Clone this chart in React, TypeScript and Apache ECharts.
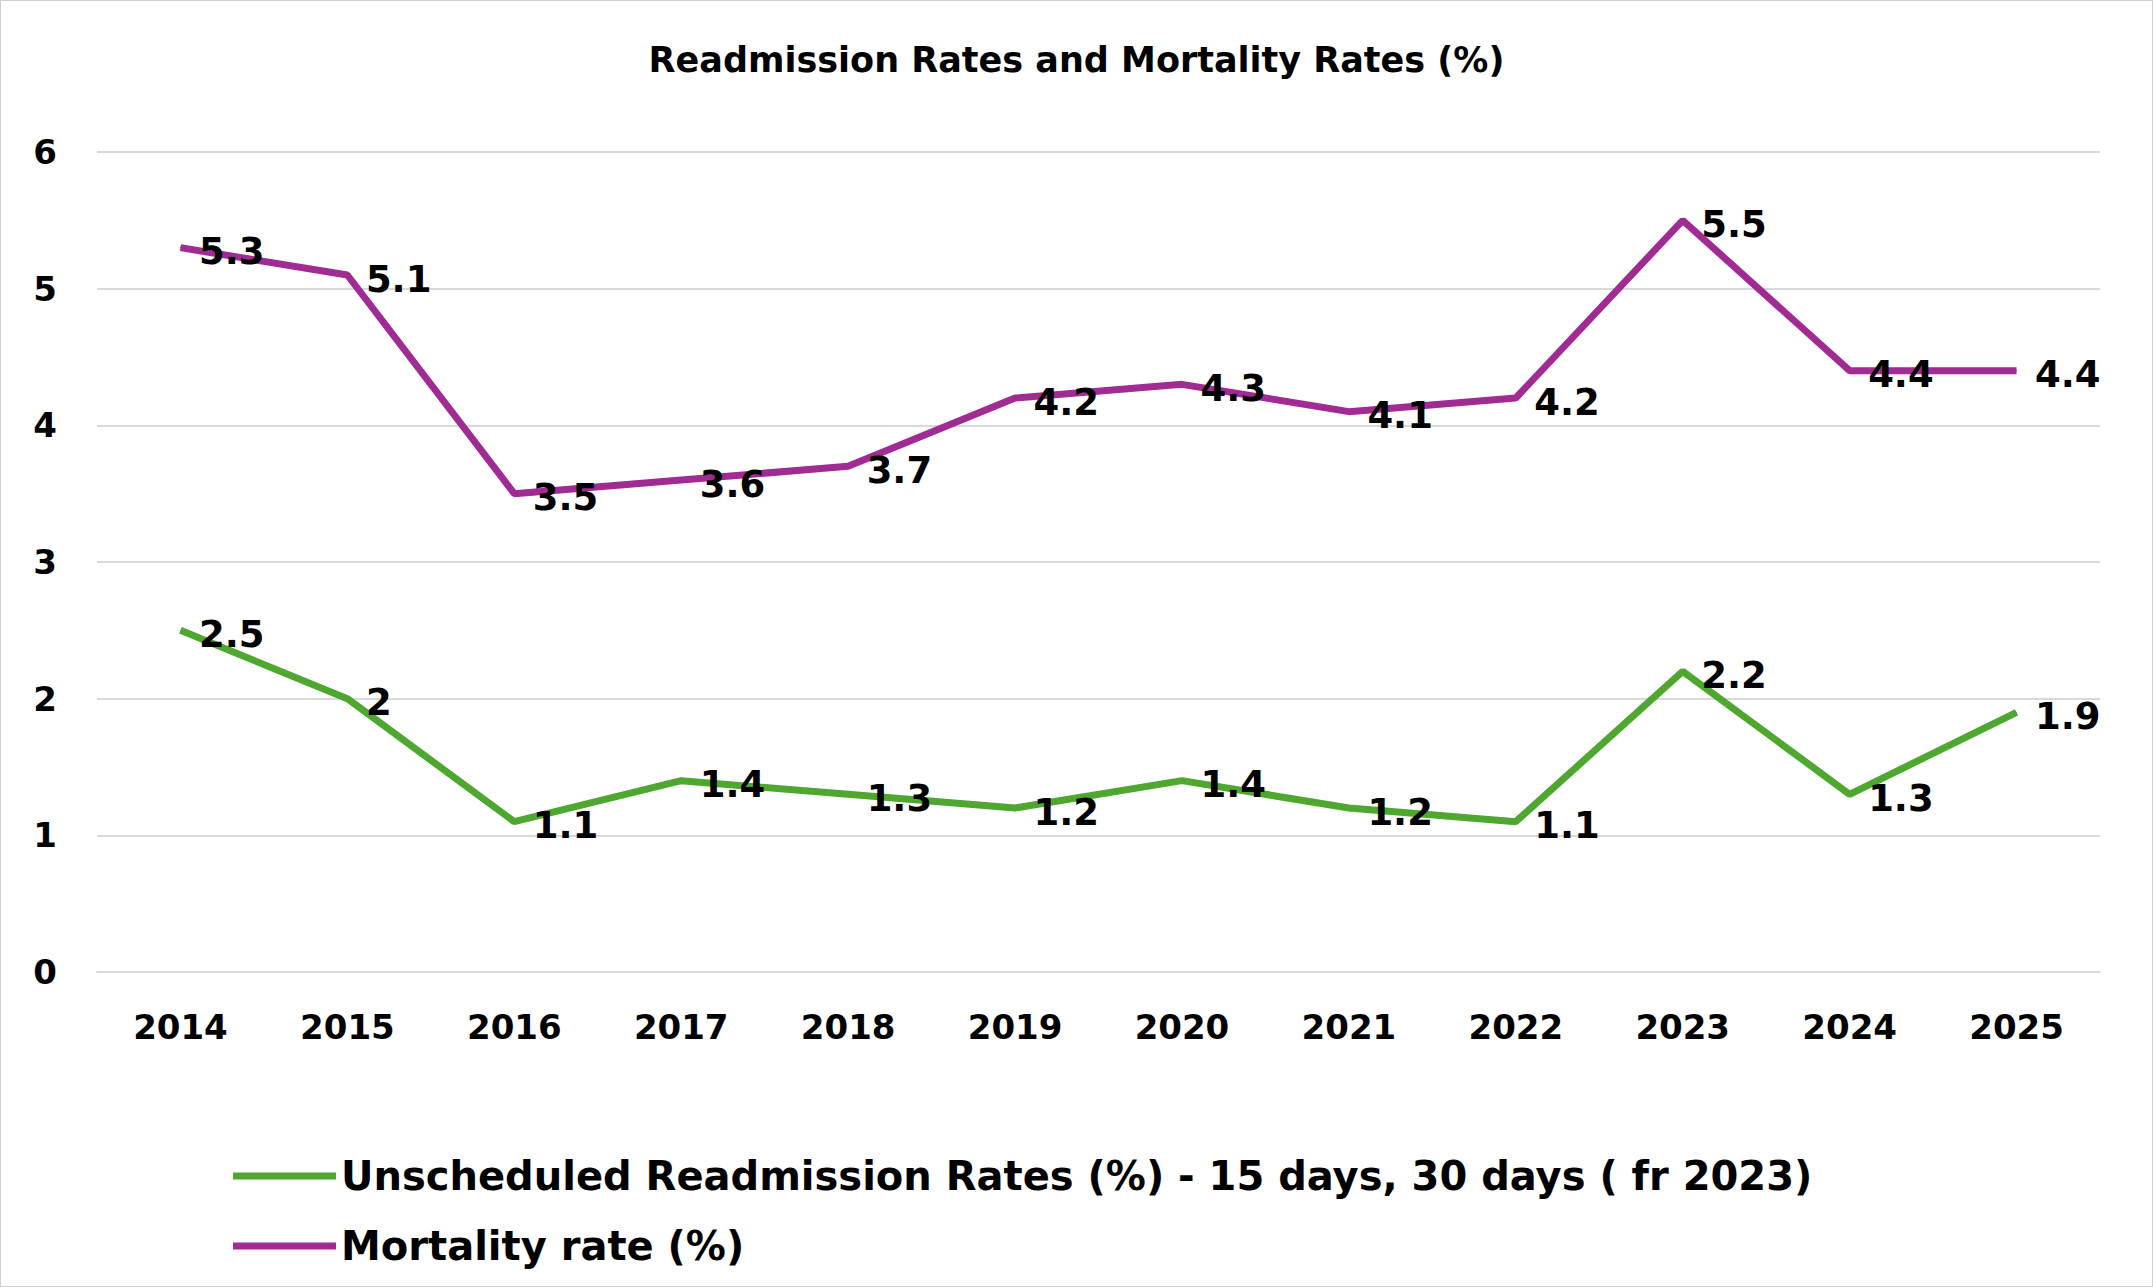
import { useEffect, useRef } from "react";
import * as echarts from "echarts";

const years = ["2014", "2015", "2016", "2017", "2018", "2019", "2020", "2021", "2022", "2023", "2024", "2025"];
const readmission = [2.5, 2, 1.1, 1.4, 1.3, 1.2, 1.4, 1.2, 1.1, 2.2, 1.3, 1.9];
const mortality = [5.3, 5.1, 3.5, 3.6, 3.7, 4.2, 4.3, 4.1, 4.2, 5.5, 4.4, 4.4];

export default function App() {
  const chartRef = useRef<HTMLDivElement>(null);

  useEffect(() => {
    document.body.style.margin = "0";
    if (!chartRef.current) return;
    const chart = echarts.init(chartRef.current, undefined, { renderer: "svg" });
    const label = {
      show: true,
      position: "right",
      distance: 18,
      offset: [0, 4],
      color: "#000",
      fontSize: 37,
      fontFamily: "DejaVu Sans",
      fontWeight: "bold",
    };
    chart.setOption({
      animation: false,
      textStyle: { fontFamily: "DejaVu Sans" },
      title: {
        text: "Readmission Rates and Mortality Rates (%)",
        left: "center",
        top: 36,
        textStyle: { fontSize: 35, fontWeight: "bold", color: "#000", fontFamily: "DejaVu Sans" },
      },
      grid: { left: 96, right: 52, top: 151, bottom: 314, containLabel: false },
      xAxis: {
        type: "category",
        data: years,
        boundaryGap: true,
        axisLine: { lineStyle: { color: "#d9d9d9", width: 2 } },
        axisTick: { show: false },
        axisLabel: { color: "#000", fontSize: 34, fontWeight: "bold", margin: 38, fontFamily: "DejaVu Sans" },
      },
      yAxis: {
        type: "value",
        min: 0,
        max: 6,
        interval: 1,
        axisLine: { show: false },
        axisLabel: { color: "#000", fontSize: 34, fontWeight: "bold", margin: 40, fontFamily: "DejaVu Sans" },
        splitLine: { lineStyle: { color: "#d9d9d9", width: 2 } },
      },
      legend: {
        orient: "vertical",
        left: 227,
        top: 1150,
        icon: "rect",
        itemWidth: 103,
        itemHeight: 7,
        itemGap: 30,
        textStyle: { fontSize: 40, fontWeight: "bold", color: "#000", fontFamily: "DejaVu Sans" },
        data: ["Unscheduled Readmission Rates (%) - 15 days, 30 days ( fr 2023)", "Mortality rate (%)"],
      },
      series: [
        {
          name: "Unscheduled Readmission Rates (%) - 15 days, 30 days ( fr 2023)",
          type: "line",
          data: readmission,
          symbol: "circle",
          symbolSize: 1,
          showSymbol: true,
          color: "#4EA72E",
          lineStyle: { width: 7, color: "#4EA72E" },
          label,
        },
        {
          name: "Mortality rate (%)",
          type: "line",
          data: mortality,
          symbol: "circle",
          symbolSize: 1,
          showSymbol: true,
          color: "#A02B93",
          lineStyle: { width: 7, color: "#A02B93" },
          label,
        },
      ],
    });
    return () => chart.dispose();
  }, []);

  return (
    <div
      ref={chartRef}
      style={{ width: 2151, height: 1285, border: "1px solid #d0d0d0", background: "#fff" }}
    />
  );
}
